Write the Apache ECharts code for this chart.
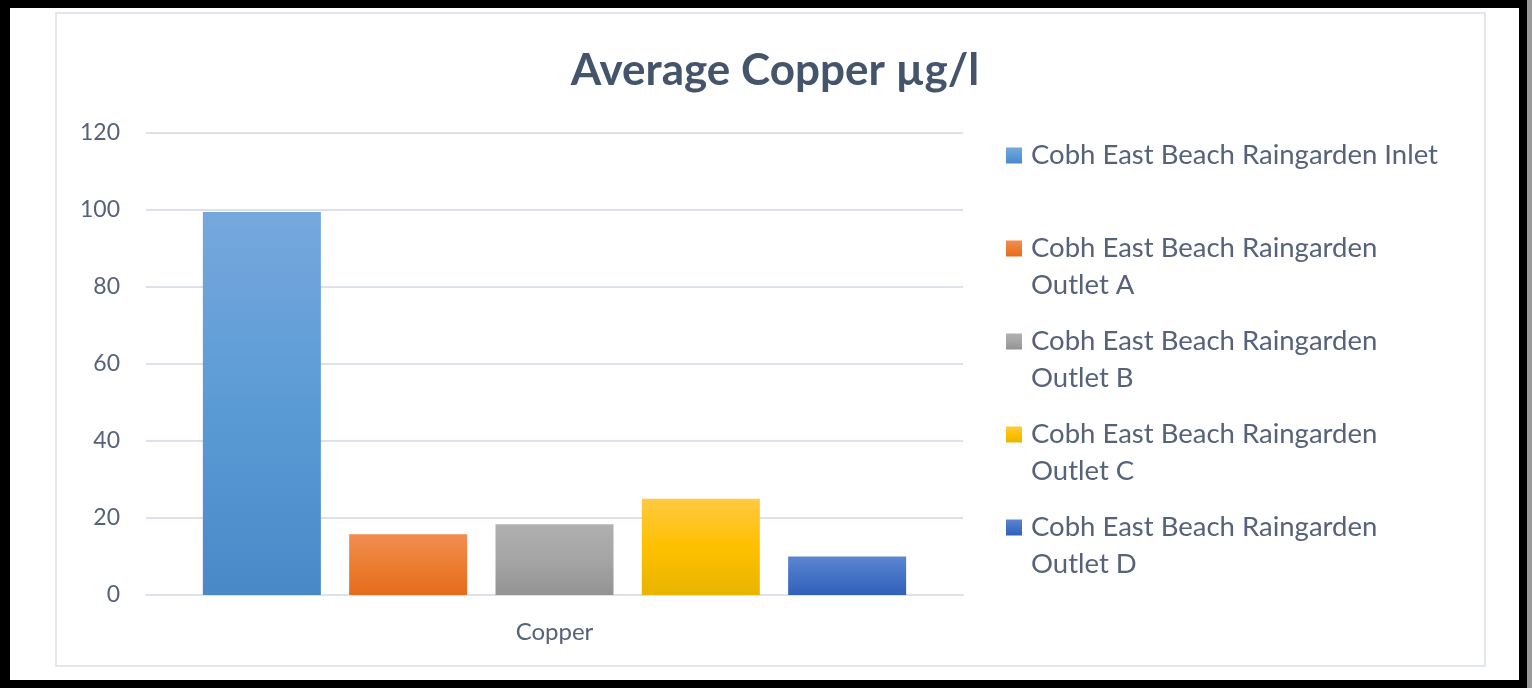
<!DOCTYPE html>
<html>
<head>
<meta charset="utf-8">
<script src="https://cdn.jsdelivr.net/npm/echarts@6/dist/echarts.min.js"></script>
<style>
  html, body { margin: 0; padding: 0; background: #9a9a9a; }
  #frame {
    position: absolute; left: 0; top: 0; width: 1527px; height: 688px;
    box-sizing: border-box; background: #fff;
    border-style: solid; border-color: #000; border-width: 8px 8px 8px 10px;
  }
  #inner {
    position: absolute; left: 55px; top: 12px; width: 1431px; height: 655px;
    box-sizing: border-box; border: 2px solid #e2e7ee;
  }
  #main { position: absolute; left: 0; top: 0; width: 1532px; height: 688px; }
</style>
</head>
<body>
<div id="frame"></div>
<div id="inner"></div>
<div id="main"></div>
<script>
// data
var categories = ['Copper'];
var seriesNames = [
  'Cobh East Beach Raingarden Inlet',
  'Cobh East Beach Raingarden Outlet A',
  'Cobh East Beach Raingarden Outlet B',
  'Cobh East Beach Raingarden Outlet C',
  'Cobh East Beach Raingarden Outlet D'
];
// how the legend breaks each name
var legendLabels = [
  'Cobh East Beach Raingarden Inlet',
  'Cobh East Beach Raingarden\nOutlet A',
  'Cobh East Beach Raingarden\nOutlet B',
  'Cobh East Beach Raingarden\nOutlet C',
  'Cobh East Beach Raingarden\nOutlet D'
];
var copperValues = [99.5, 15.8, 18.4, 25, 10];
var yTicks = [0, 20, 40, 60, 80, 100, 120];

// top / middle / bottom colours of each bar gradient
var barColors = [
  ['#76a8dd', '#5b9bd5', '#4a89c8'],
  ['#f18d52', '#ed7d31', '#e46c1c'],
  ['#b0b0b0', '#a5a5a5', '#939393'],
  ['#ffc942', '#ffc000', '#e8b400'],
  ['#5c86d2', '#4472c4', '#2f60bc']
];

var textColor = '#56627a';
var font = 'Lato, "Open Sans", sans-serif';

function gradient(c) {
  return new echarts.graphic.LinearGradient(0, 0, 0, 1, [
    { offset: 0, color: c[0] },
    { offset: 0.5, color: c[1] },
    { offset: 1, color: c[2] }
  ]);
}

var series = seriesNames.map(function (name, i) {
  return {
    name: name,
    type: 'bar',
    barWidth: 118,
    barGap: '24%',
    itemStyle: { color: gradient(barColors[i]) },
    data: [copperValues[i]]
  };
});

var chart = echarts.init(document.getElementById('main'));
chart.setOption({
  animation: false,
  color: barColors.map(function (c) { return c[1]; }),
  title: {
    text: 'Average Copper µg/l',
    left: 770,
    top: 44,
    textAlign: 'center',
    textStyle: { fontFamily: font, fontSize: 44, fontWeight: 'bold', color: '#44546a' }
  },
  legend: {
    orient: 'vertical',
    left: 1001,
    top: 95,
    itemWidth: 16,
    itemHeight: 16,
    itemGap: -18,
    icon: 'rect',
    selectedMode: false,
    data: seriesNames,
    formatter: function (name) {
      var t = legendLabels[seriesNames.indexOf(name)];
      // pad to three lines so the square sits beside the first line
      return t.indexOf('\n') < 0 ? '\n' + t + '\n' : '\n' + t;
    },
    textStyle: { fontFamily: font, fontSize: 27.5, color: textColor, lineHeight: 37, padding: [0, 0, 0, 4] }
  },
  grid: { left: 146, right: 569, top: 133, bottom: 93, outerBoundsMode: 'none' },
  xAxis: {
    type: 'category',
    data: categories,
    axisLine: { lineStyle: { color: '#dde2ea', width: 2 } },
    axisTick: { show: false },
    axisLabel: { fontFamily: font, fontSize: 24, color: textColor, margin: 25 }
  },
  yAxis: {
    type: 'value',
    min: yTicks[0],
    max: yTicks[yTicks.length - 1],
    interval: 20,
    axisLine: { show: false },
    axisTick: { show: false },
    splitLine: { lineStyle: { color: '#dde2ea', width: 2 } },
    axisLabel: { fontFamily: font, fontSize: 23, color: textColor, margin: 26 }
  },
  series: series
});
</script>
</body>
</html>
